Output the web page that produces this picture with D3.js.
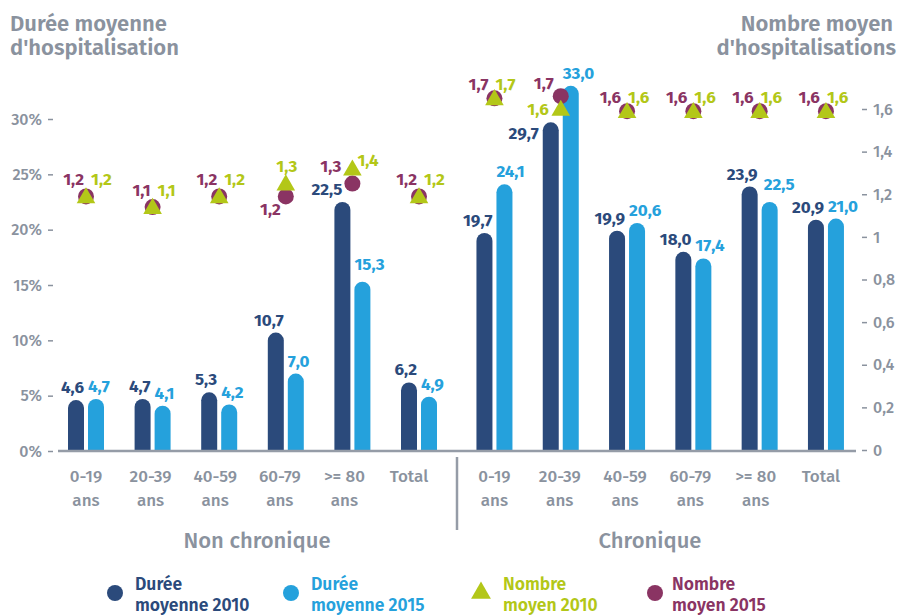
<!DOCTYPE html>
<meta charset="utf-8">
<script src="https://d3js.org/d3.v7.min.js"></script>
<style>
  body { margin: 0; background: #fff; }
  text { font-family: "Fira Sans", "Noto Sans", sans-serif; }
</style>
<div id="my_dataviz"></div>
<script>

// ---- data ----
var groups = ["Non chronique", "Chronique"];
var catLines = [["0-19", "ans"], ["20-39", "ans"], ["40-59", "ans"], ["60-79", "ans"], [">= 80", "ans"], ["Total"]];

var dureeNC2010 = [4.6, 4.7, 5.3, 10.7, 22.5, 6.2];
var dureeNC2015 = [4.7, 4.1, 4.2, 7.0, 15.3, 4.9];
var dureeC2010  = [19.7, 29.7, 19.9, 18.0, 23.9, 20.9];
var dureeC2015  = [24.1, 33.0, 20.6, 17.4, 22.5, 21.0];

// marker heights as drawn, and the figures printed next to them
var nombreNC2010 = [1.19, 1.14, 1.19, 1.25, 1.32, 1.19];
var nombreNC2015 = [1.19, 1.14, 1.19, 1.19, 1.25, 1.19];
var nombreC2010  = [1.65, 1.60, 1.59, 1.59, 1.59, 1.59];
var nombreC2015  = [1.65, 1.66, 1.59, 1.59, 1.59, 1.59];
var nombreNC2010Lbl = ["1,2", "1,1", "1,2", "1,3", "1,4", "1,2"];
var nombreNC2015Lbl = ["1,2", "1,1", "1,2", "1,2", "1,3", "1,2"];
var nombreC2010Lbl  = ["1,7", "1,6", "1,6", "1,6", "1,6", "1,6"];
var nombreC2015Lbl  = ["1,7", "1,7", "1,6", "1,6", "1,6", "1,6"];

var leftTicks  = [0, 5, 10, 15, 20, 25, 30];
var rightTicks = [0, 0.2, 0.4, 0.6, 0.8, 1, 1.2, 1.4, 1.6];

var legendItems = [
  {key: "d2010", lines: ["Durée", "moyenne 2010"]},
  {key: "d2015", lines: ["Durée", "moyenne 2015"]},
  {key: "n2010", lines: ["Nombre", "moyen 2010"]},
  {key: "n2015", lines: ["Nombre", "moyen 2015"]}
];

// ---- colours ----
var col = {d2010: "#2b4a7b", d2015: "#25a1dc", n2010: "#b3c718", n2015: "#8a3463", grey: "#8a929e"};

var width = 899, height = 616;

var svg = d3.select("#my_dataviz")
  .append("svg")
    .attr("width", width)
    .attr("height", height);

// build rows for both groups
var rows = [];
catLines.forEach(function(c, i) {
  rows.push({g: 0, i: i, d10: dureeNC2010[i], d15: dureeNC2015[i], n10: nombreNC2010[i], n15: nombreNC2015[i], l10: nombreNC2010Lbl[i], l15: nombreNC2015Lbl[i]});
});
catLines.forEach(function(c, i) {
  rows.push({g: 1, i: i, d10: dureeC2010[i], d15: dureeC2015[i], n10: nombreC2010[i], n15: nombreC2015[i], l10: nombreC2010Lbl[i], l15: nombreC2015Lbl[i]});
});

// scales
var idx = d3.range(catLines.length);
var xGroup = [
  d3.scaleBand().domain(idx).range([52.7, 452.3]),
  d3.scaleBand().domain(idx).range([461.3, 859.1])
];
function cx(d) { var s = xGroup[d.g]; return s(d.i) + s.bandwidth() / 2; }

var xSub = d3.scaleBand().domain(["d2010", "d2015"]).range([-18, 18]).paddingInner(0.2);

var yL = d3.scaleLinear().domain([0, 30]).range([451, 119]);
var yR = d3.scaleLinear().domain([0, 1.6]).range([450, 109]);

var fmt = function(v) { return d3.format(".1f")(v).replace(".", ","); };

// ---- titles (one text per line) ----
function titleLine(x, y, anchor, s) {
  svg.append("text").attr("x", x).attr("y", y).attr("text-anchor", anchor)
    .attr("fill", col.grey).attr("font-size", 22).attr("font-weight", 600).text(s);
}
titleLine(10, 31, "start", "Durée moyenne");
titleLine(10, 55, "start", "d'hospitalisation");
titleLine(893, 31, "end", "Nombre moyen");
titleLine(896, 55, "end", "d'hospitalisations");

// ---- axes ----
var axL = svg.append("g").attr("transform", "translate(53,0)")
  .call(d3.axisLeft(yL).tickValues(leftTicks).tickSize(5).tickPadding(6)
    .tickFormat(function(d) { return d + "%"; }));
var axR = svg.append("g").attr("transform", "translate(862,0)")
  .call(d3.axisRight(yR).tickValues(rightTicks).tickSize(5).tickPadding(6)
    .tickFormat(function(d) { return String(d).replace(".", ","); }));
[axL, axR].forEach(function(a) {
  a.select(".domain").remove();
  a.selectAll(".tick line").attr("stroke", col.grey).attr("stroke-width", 1.5);
  a.selectAll(".tick text").attr("fill", col.grey).attr("font-size", 16)
    .attr("font-weight", 500).style("font-family", "'Fira Sans','Noto Sans',sans-serif");
});

// ---- bars ----
function barPath(x0, w, v) {
  var r = w / 2, yb = yL(0), yt = yL(v);
  return "M" + x0 + "," + yb + "V" + (yt + r) +
    "A" + r + "," + r + " 0 0 1 " + (x0 + w) + "," + (yt + r) + "V" + yb + "Z";
}
var bw = xSub.bandwidth();

svg.append("g").selectAll("path.b10").data(rows).enter().append("path")
  .attr("d", function(d) { return barPath(cx(d) + xSub("d2010"), bw, d.d10); })
  .attr("fill", col.d2010);
svg.append("g").selectAll("path.b15").data(rows).enter().append("path")
  .attr("d", function(d) { return barPath(cx(d) + xSub("d2015"), bw, d.d15); })
  .attr("fill", col.d2015);

// baseline
svg.append("line").attr("x1", 58).attr("x2", 856).attr("y1", 451).attr("y2", 451)
  .attr("stroke", "#959ca7").attr("stroke-width", 2.5);

// value labels (little nudges where the original moved them aside)
var nudge10 = {"0-4": [-8, 0], "1-1": [-20, 24]};
var nudge15 = {"0-4": [0, -5], "1-4": [2, -5]};
svg.append("g").selectAll("text").data(rows).enter().append("text")
  .attr("x", function(d) { var n = nudge10[d.g + "-" + d.i] || [0, 0]; return cx(d) + xSub("d2010") + bw + n[0]; })
  .attr("y", function(d) { var n = nudge10[d.g + "-" + d.i] || [0, 0]; return yL(d.d10) - 7 + n[1]; })
  .attr("text-anchor", "end").attr("fill", col.d2010)
  .attr("font-size", 17).attr("font-weight", 700)
  .text(function(d) { return fmt(d.d10); });
svg.append("g").selectAll("text").data(rows).enter().append("text")
  .attr("x", function(d) { var n = nudge15[d.g + "-" + d.i] || [0, 0]; return cx(d) + xSub("d2015") + n[0]; })
  .attr("y", function(d) { var n = nudge15[d.g + "-" + d.i] || [0, 0]; return yL(d.d15) - 7 + n[1]; })
  .attr("text-anchor", "start").attr("fill", col.d2015)
  .attr("font-size", 17).attr("font-weight", 700)
  .text(function(d) { return fmt(d.d15); });

// ---- markers ----
var tri = d3.symbol().type(d3.symbolTriangle).size(150);
svg.append("g").selectAll("circle").data(rows).enter().append("circle")
  .attr("cx", cx).attr("cy", function(d) { return yR(d.n15); })
  .attr("r", 8).attr("fill", col.n2015);
svg.append("g").selectAll("path").data(rows).enter().append("path")
  .attr("d", tri)
  .attr("transform", function(d) { return "translate(" + cx(d) + "," + (yR(d.n10) + 1.5) + ")"; })
  .attr("fill", col.n2010);

// marker labels: [dx, dy, anchor]
function lab15(d) {
  var k = d.g + "-" + d.i;
  if (k === "0-3") return [-5, 19, "end"];
  if (k === "0-4") return [-11, -12, "end"];
  if (k === "1-1") return [-7, -7, "end"];
  return d.g === 0 ? [-2, -11, "end"] : [-6, -8, "end"];
}
function lab10(d) {
  var k = d.g + "-" + d.i;
  if (k === "0-3") return [1, -12, "middle"];
  if (k === "0-4") return [5, -3, "start"];
  if (k === "1-1") return [-12, 6, "end"];
  return d.g === 0 ? [5, -11, "start"] : [1, -8, "start"];
}
svg.append("g").selectAll("text").data(rows).enter().append("text")
  .attr("x", function(d) { return cx(d) + lab15(d)[0]; })
  .attr("y", function(d) { return yR(d.n15) + lab15(d)[1]; })
  .attr("text-anchor", function(d) { return lab15(d)[2]; })
  .attr("fill", col.n2015).attr("font-size", 17).attr("font-weight", 700)
  .text(function(d) { return d.l15; });
svg.append("g").selectAll("text").data(rows).enter().append("text")
  .attr("x", function(d) { return cx(d) + lab10(d)[0]; })
  .attr("y", function(d) { return yR(d.n10) + lab10(d)[1]; })
  .attr("text-anchor", function(d) { return lab10(d)[2]; })
  .attr("fill", col.n2010).attr("font-size", 17).attr("font-weight", 700)
  .text(function(d) { return d.l10; });

// ---- category labels ----
var catText = svg.append("g").selectAll("text").data(rows).enter().append("text")
  .attr("text-anchor", "middle").attr("fill", col.grey)
  .attr("font-size", 17).attr("font-weight", 500)
  .attr("x", function(d) { return cx(d) - (d.g === 0 ? 2 : 1) * d.i; })
  .attr("y", 482);
catText.each(function(d) {
  var t = d3.select(this), x = +t.attr("x");
  catLines[d.i].forEach(function(line, j) {
    t.append("tspan").attr("x", x).attr("dy", j === 0 ? 0 : 24).text(line);
  });
});

// separator and group names
svg.append("line").attr("x1", 457).attr("x2", 457).attr("y1", 457).attr("y2", 530)
  .attr("stroke", "#959ca7").attr("stroke-width", 2.5);
svg.selectAll("text.grp").data(groups).enter().append("text")
  .attr("x", function(d, i) { return i === 0 ? 257 : 650; })
  .attr("y", 548).attr("text-anchor", "middle")
  .attr("fill", col.grey).attr("font-size", 22).attr("font-weight", 500)
  .text(function(d) { return d; });

// ---- legend ----
var legX = [115, 291, 481, 655];
var leg = svg.append("g").selectAll("g").data(legendItems).enter().append("g")
  .attr("transform", function(d, i) { return "translate(" + legX[i] + ",593)"; });
leg.each(function(d) {
  var g = d3.select(this);
  if (d.key === "n2010") {
    g.append("path").attr("d", d3.symbol().type(d3.symbolTriangle).size(170)).attr("fill", col[d.key]);
  } else {
    g.append("circle").attr("r", 8).attr("fill", col[d.key]);
  }
  var tx = d.key === "n2010" ? 22 : (d.key === "n2015" ? 17 : 20);
  d.lines.forEach(function(line, j) {
    g.append("text").attr("x", tx).attr("y", -3 + j * 21)
      .attr("fill", col[d.key]).attr("font-size", 17.5).attr("font-weight", 600)
      .text(line);
  });
});

</script>
